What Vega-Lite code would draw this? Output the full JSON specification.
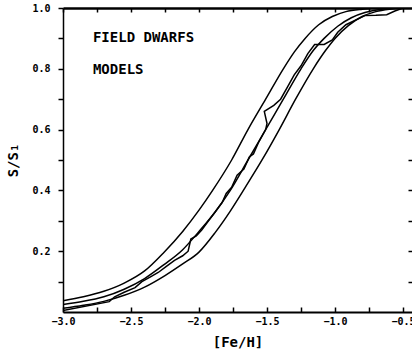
{
  "$schema": "https://vega.github.io/schema/vega-lite/v6.json",
  "width": 349,
  "height": 304,
  "autosize": {"type": "none"},
  "padding": {"left": 63, "top": 8, "right": 0, "bottom": 43},
  "background": "white",
  "config": {"view": {"stroke": null}, "font": "DejaVu Sans Mono"},
  "datasets": {
    "models": [
      {"m": "A", "x": -3.0, "y": 0.037}, {"m": "A", "x": -2.85, "y": 0.05}, {"m": "A", "x": -2.7, "y": 0.068},
      {"m": "A", "x": -2.55, "y": 0.095}, {"m": "A", "x": -2.4, "y": 0.135}, {"m": "A", "x": -2.26, "y": 0.195},
      {"m": "A", "x": -2.12, "y": 0.265}, {"m": "A", "x": -2.0, "y": 0.335}, {"m": "A", "x": -1.9, "y": 0.4},
      {"m": "A", "x": -1.76, "y": 0.5}, {"m": "A", "x": -1.64, "y": 0.6}, {"m": "A", "x": -1.51, "y": 0.7},
      {"m": "A", "x": -1.38, "y": 0.8}, {"m": "A", "x": -1.3, "y": 0.855}, {"m": "A", "x": -1.22, "y": 0.9},
      {"m": "A", "x": -1.12, "y": 0.945}, {"m": "A", "x": -1.02, "y": 0.972}, {"m": "A", "x": -0.92, "y": 0.988},
      {"m": "A", "x": -0.8, "y": 0.996}, {"m": "A", "x": -0.68, "y": 1.0}, {"m": "A", "x": -0.434, "y": 1.0},
      {"m": "B", "x": -3.0, "y": 0.025}, {"m": "B", "x": -2.85, "y": 0.035}, {"m": "B", "x": -2.7, "y": 0.05},
      {"m": "B", "x": -2.55, "y": 0.075}, {"m": "B", "x": -2.4, "y": 0.11}, {"m": "B", "x": -2.26, "y": 0.155},
      {"m": "B", "x": -2.12, "y": 0.205}, {"m": "B", "x": -2.0, "y": 0.265}, {"m": "B", "x": -1.88, "y": 0.33},
      {"m": "B", "x": -1.77, "y": 0.4}, {"m": "B", "x": -1.64, "y": 0.5}, {"m": "B", "x": -1.51, "y": 0.6},
      {"m": "B", "x": -1.38, "y": 0.7}, {"m": "B", "x": -1.25, "y": 0.8}, {"m": "B", "x": -1.16, "y": 0.86},
      {"m": "B", "x": -1.08, "y": 0.9}, {"m": "B", "x": -0.98, "y": 0.94}, {"m": "B", "x": -0.88, "y": 0.968},
      {"m": "B", "x": -0.78, "y": 0.985}, {"m": "B", "x": -0.66, "y": 0.996}, {"m": "B", "x": -0.56, "y": 1.0},
      {"m": "B", "x": -0.434, "y": 1.0},
      {"m": "C", "x": -3.0, "y": 0.012}, {"m": "C", "x": -2.85, "y": 0.022}, {"m": "C", "x": -2.7, "y": 0.035},
      {"m": "C", "x": -2.55, "y": 0.055}, {"m": "C", "x": -2.4, "y": 0.082}, {"m": "C", "x": -2.25, "y": 0.12},
      {"m": "C", "x": -2.12, "y": 0.158}, {"m": "C", "x": -2.0, "y": 0.197}, {"m": "C", "x": -1.88, "y": 0.262},
      {"m": "C", "x": -1.77, "y": 0.332}, {"m": "C", "x": -1.66, "y": 0.41}, {"m": "C", "x": -1.53, "y": 0.505},
      {"m": "C", "x": -1.41, "y": 0.6}, {"m": "C", "x": -1.29, "y": 0.7}, {"m": "C", "x": -1.16, "y": 0.8},
      {"m": "C", "x": -1.07, "y": 0.86}, {"m": "C", "x": -1.0, "y": 0.9}, {"m": "C", "x": -0.9, "y": 0.943},
      {"m": "C", "x": -0.8, "y": 0.972}, {"m": "C", "x": -0.7, "y": 0.988}, {"m": "C", "x": -0.6, "y": 0.996},
      {"m": "C", "x": -0.5, "y": 1.0}, {"m": "C", "x": -0.434, "y": 1.0}
    ],
    "dwarfs": [
      {"i": 1, "x": -3.0, "y": 0.005}, {"i": 2, "x": -2.66, "y": 0.034}, {"i": 3, "x": -2.62, "y": 0.05},
      {"i": 4, "x": -2.55, "y": 0.065}, {"i": 5, "x": -2.47, "y": 0.08}, {"i": 6, "x": -2.42, "y": 0.1},
      {"i": 7, "x": -2.36, "y": 0.115}, {"i": 8, "x": -2.3, "y": 0.13}, {"i": 9, "x": -2.24, "y": 0.15},
      {"i": 10, "x": -2.18, "y": 0.17}, {"i": 11, "x": -2.12, "y": 0.185}, {"i": 12, "x": -2.08, "y": 0.2},
      {"i": 13, "x": -2.06, "y": 0.24}, {"i": 14, "x": -2.02, "y": 0.25}, {"i": 15, "x": -1.98, "y": 0.27},
      {"i": 16, "x": -1.93, "y": 0.3}, {"i": 17, "x": -1.88, "y": 0.33}, {"i": 18, "x": -1.83, "y": 0.36},
      {"i": 19, "x": -1.8, "y": 0.39}, {"i": 20, "x": -1.76, "y": 0.41}, {"i": 21, "x": -1.72, "y": 0.45},
      {"i": 22, "x": -1.67, "y": 0.47}, {"i": 23, "x": -1.63, "y": 0.51}, {"i": 24, "x": -1.6, "y": 0.52},
      {"i": 25, "x": -1.56, "y": 0.56}, {"i": 26, "x": -1.51, "y": 0.6}, {"i": 27, "x": -1.5, "y": 0.62},
      {"i": 28, "x": -1.52, "y": 0.66}, {"i": 29, "x": -1.45, "y": 0.68}, {"i": 30, "x": -1.4, "y": 0.7},
      {"i": 31, "x": -1.35, "y": 0.74}, {"i": 32, "x": -1.3, "y": 0.78}, {"i": 33, "x": -1.25, "y": 0.81},
      {"i": 34, "x": -1.2, "y": 0.85}, {"i": 35, "x": -1.15, "y": 0.88}, {"i": 36, "x": -1.08, "y": 0.88},
      {"i": 37, "x": -1.02, "y": 0.895}, {"i": 38, "x": -0.98, "y": 0.92}, {"i": 39, "x": -0.92, "y": 0.945},
      {"i": 40, "x": -0.85, "y": 0.96}, {"i": 41, "x": -0.78, "y": 0.975}, {"i": 42, "x": -0.7, "y": 0.976},
      {"i": 43, "x": -0.62, "y": 0.978}, {"i": 44, "x": -0.56, "y": 0.99}, {"i": 45, "x": -0.5, "y": 1.0},
      {"i": 46, "x": -0.434, "y": 1.0}
    ],
    "labels": [
      {"x": -2.78, "y": 0.9, "t": "FIELD DWARFS"},
      {"x": -2.78, "y": 0.796, "t": "MODELS"}
    ]
  },
  "layer": [
    {
      "data": {"name": "models"},
      "mark": {"type": "line", "interpolate": "monotone", "color": "black", "strokeWidth": 1.5, "clip": true},
      "encoding": {
        "x": {"field": "x", "type": "quantitative",
          "scale": {"domain": [-3, -0.434], "nice": false, "zero": false},
          "axis": {"orient": "bottom", "title": "[Fe/H]",
            "values": [-3, -2.75, -2.5, -2.25, -2, -1.75, -1.5, -1.25, -1, -0.75, -0.5],
            "labelExpr": "abs(datum.value*2 - round(datum.value*2)) < 0.001 ? format(datum.value, '.1f') : ''",
            "grid": false, "domainColor": "black", "domainWidth": 2, "tickColor": "black", "tickSize": -5, "tickWidth": 1.5,
            "labelFont": "DejaVu Sans Mono", "labelFontSize": 10, "labelFontWeight": "bold", "labelColor": "black", "labelPadding": 9,
            "titleFont": "DejaVu Sans Mono", "titleFontSize": 14, "titleFontWeight": "bold", "titleColor": "black", "titlePadding": 9,
            "labelFlush": false, "labelOverlap": false}},
        "y": {"field": "y", "type": "quantitative",
          "scale": {"domain": [0, 1], "nice": false, "zero": false},
          "axis": {"orient": "left", "title": "S/S₁",
            "values": [0.1, 0.2, 0.3, 0.4, 0.5, 0.6, 0.7, 0.8, 0.9, 1.0],
            "labelExpr": "round(datum.value*10) % 2 == 0 ? format(datum.value, '.1f') : ''",
            "grid": false, "domainColor": "black", "domainWidth": 1.5, "tickColor": "black", "tickSize": 5, "tickWidth": 1.5,
            "labelFont": "DejaVu Sans Mono", "labelFontSize": 10, "labelFontWeight": "bold", "labelColor": "black", "labelPadding": 8,
            "titleFont": "DejaVu Sans Mono", "titleFontSize": 14, "titleFontWeight": "bold", "titleColor": "black", "titlePadding": 11,
            "labelFlush": false, "labelOverlap": false}},
        "detail": {"field": "m"}
      }
    },
    {
      "data": {"name": "dwarfs"},
      "mark": {"type": "line", "color": "black", "strokeWidth": 1.5, "clip": true},
      "encoding": {
        "x": {"field": "x", "type": "quantitative",
          "axis": {"orient": "top", "title": null, "labels": false,
            "values": [-3, -2.75, -2.5, -2.25, -2, -1.75, -1.5, -1.25, -1, -0.75, -0.5],
            "grid": false, "domainColor": "black", "domainWidth": 2.5, "tickColor": "black", "tickSize": -4, "tickWidth": 1.5}},
        "y": {"field": "y", "type": "quantitative",
          "axis": {"orient": "right", "title": null, "labels": false, "domain": false,
            "values": [0.1, 0.2, 0.3, 0.4, 0.5, 0.6, 0.7, 0.8, 0.9],
            "grid": false, "tickColor": "black", "tickSize": -4, "tickWidth": 1.5}},
        "order": {"field": "i", "type": "quantitative"}
      }
    },
    {
      "data": {"name": "labels"},
      "mark": {"type": "text", "align": "left", "baseline": "middle", "font": "DejaVu Sans Mono", "fontSize": 14, "fontWeight": "bold", "color": "black"},
      "encoding": {
        "x": {"field": "x", "type": "quantitative", "axis": null},
        "y": {"field": "y", "type": "quantitative", "axis": null},
        "text": {"field": "t"}
      }
    }
  ],
  "resolve": {"axis": {"x": "independent", "y": "independent"}}
}
